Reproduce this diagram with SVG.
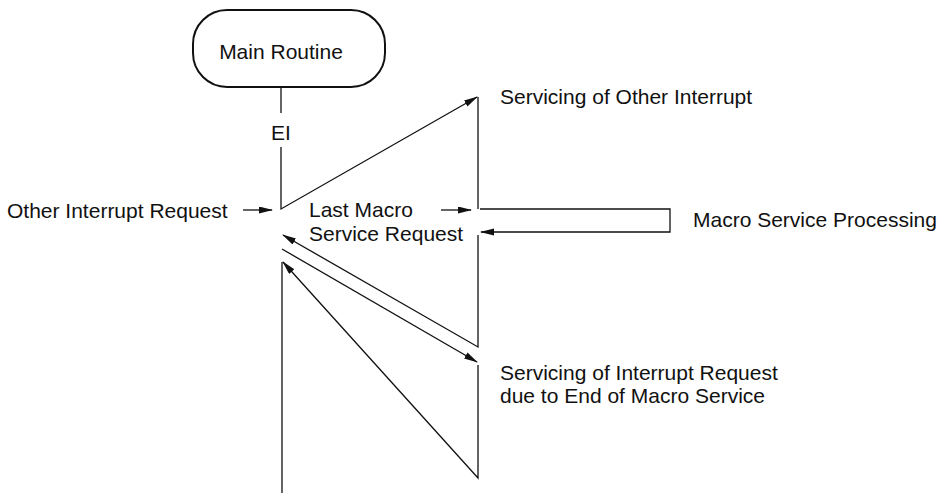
<svg xmlns="http://www.w3.org/2000/svg" width="942" height="495" viewBox="0 0 942 495">
<style>
text{font-family:"Liberation Sans",Arial,sans-serif;font-size:21px;fill:#111}
.c{fill:none;stroke:#111;stroke-width:1.3}
</style>
<defs>
<marker id="ah" markerUnits="userSpaceOnUse" markerWidth="14" markerHeight="8" refX="13" refY="3.5" orient="auto">
<path d="M0,0 L14,3.5 L0,7 z" fill="#111"/>
</marker>
</defs>
<rect width="942" height="495" fill="#fff"/>
<g id="main-routine">
<rect x="193" y="10" width="192" height="77" rx="34" ry="34" fill="none" stroke="#111" stroke-width="2"/>
<text x="281" y="59" text-anchor="middle">Main Routine</text>
</g>
<g id="ei"><text x="281" y="140" text-anchor="middle">EI</text></g>
<g id="other-interrupt-request"><text x="7" y="218">Other Interrupt Request</text></g>
<g id="last-macro"><text x="309" y="217">Last Macro</text><text x="309" y="241">Service Request</text></g>
<g id="macro-service-processing"><text x="693" y="227" font-size="20.5">Macro Service Processing</text></g>
<g id="servicing-other"><text x="500" y="104">Servicing of Other Interrupt</text></g>
<g id="servicing-end"><text x="500" y="380">Servicing of Interrupt Request</text><text x="500" y="403">due to End of Macro Service</text></g>
<g id="connectors">
<path class="c" d="M281,87 V113"/>
<path class="c" d="M281,147 V209 L477,97" marker-end="url(#ah)"/>
<path class="c" d="M478,97 V209 M480,209 H670 V232 H481" marker-end="url(#ah)"/>
<path class="c" d="M478,235 V347 L283,235" marker-end="url(#ah)"/>
<path class="c" d="M282,249 L477,362" marker-end="url(#ah)"/>
<path class="c" d="M478,365 V478 L283,262" marker-end="url(#ah)"/>
<path class="c" d="M282,262 V493"/>
<path class="c" d="M243,210 H272" marker-end="url(#ah)"/>
<path class="c" d="M441,210 H471" marker-end="url(#ah)"/>
</g>
</svg>
